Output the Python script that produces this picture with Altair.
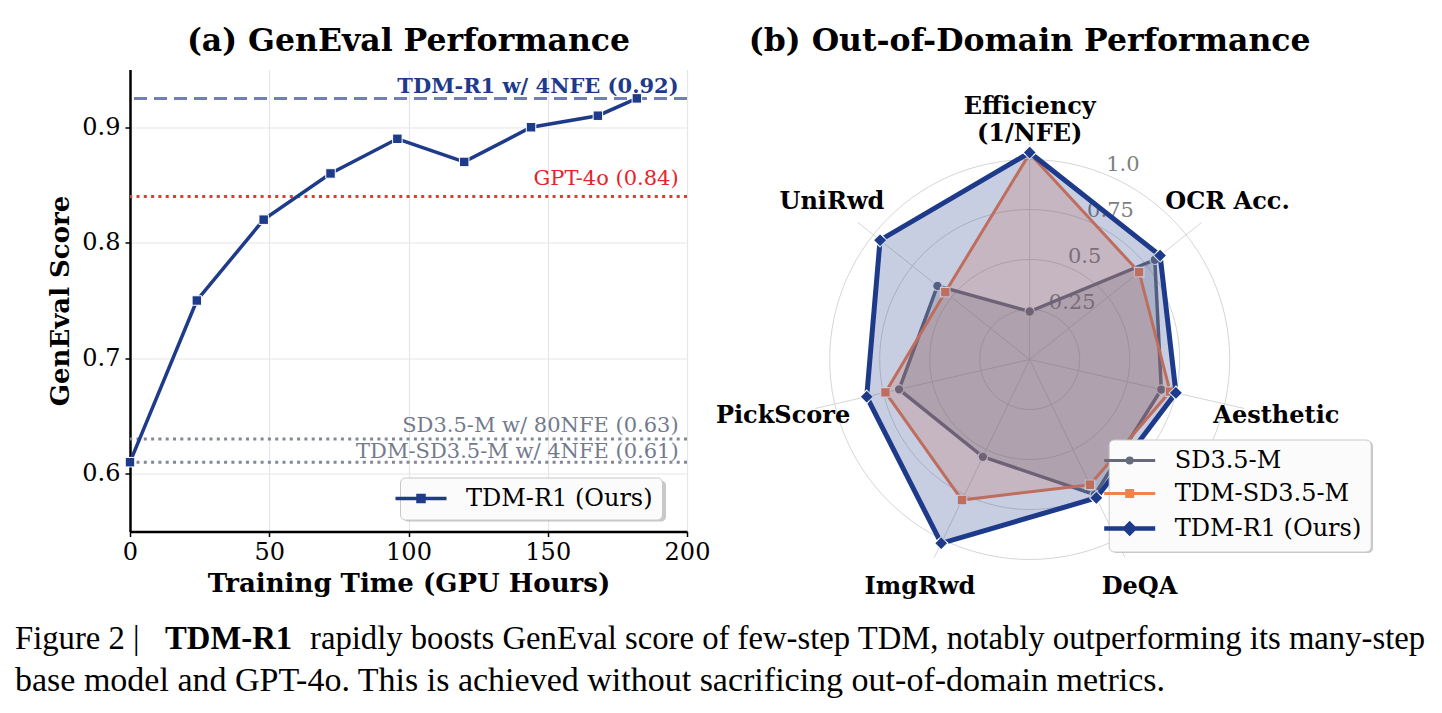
import math
import altair as alt
import pandas as pd

# ---------------- panel (a) data ----------------
hours = [0, 24, 48, 72, 96, 120, 144, 168, 182]
scores = [0.61, 0.75, 0.82, 0.86, 0.89, 0.87, 0.90, 0.91, 0.925]
ref_labels = ["TDM-R1 w/ 4NFE (0.92)", "GPT-4o (0.84)",
              "SD3.5-M w/ 80NFE (0.63)", "TDM-SD3.5-M w/ 4NFE (0.61)"]
ref_values = [0.925, 0.84, 0.63, 0.61]
ref_text_y = [0.930, 0.850, 0.636, 0.6135]
ref_text_x = [197, 197, 197, 197]
x_ticks = [0, 50, 100, 150, 200]
y_ticks = [0.6, 0.7, 0.8, 0.9]
series_a = "TDM-R1 (Ours)"

# ---------------- panel (b) data ----------------
metrics = ["Efficiency\n(1/NFE)", "OCR Acc.", "Aesthetic", "DeQA",
           "ImgRwd", "PickScore", "UniRwd"]
models = ["SD3.5-M", "TDM-SD3.5-M", "TDM-R1 (Ours)"]
sd35 = [0.24, 0.80, 0.675, 0.75, 0.54, 0.67, 0.59]
tdm_sd35 = [1.03, 0.70, 0.72, 0.695, 0.78, 0.74, 0.54]
tdm_r1 = [1.035, 0.834, 0.75, 0.768, 1.02, 0.836, 0.957]
r_ticks = [0.25, 0.5, 0.75, 1.0]
r_tick_labels = ["0.25", "0.5", "0.75", "1.0"]

# ---------------- caption ----------------
cap_1a = "Figure 2 |"
cap_1b = "TDM-R1"
cap_1c = "rapidly boosts GenEval score of few-step TDM, notably outperforming its many-step"
cap_2 = "base model and GPT-4o. This is achieved without sacrificing out-of-domain metrics."

# ---------------- styles ----------------
SERIF = "DejaVu Serif"
CAPFONT = "Liberation Serif"
NAVY = "#1e3a8a"
NAVY_LIGHT = "#6e80b5"
RED_LINE = "#ee3535"
RED_TEXT = "#e8242a"
SLATE_LINE = "#82879a"
SLATE_TEXT = "#737a8c"
GRAY = "#656a7c"
ORANGE = "#f47f4f"
GRID = "#e6e6e6"
RGRID = "#d6d6d6"
SHADOW = "#9a9a9a"

W1, H1 = 557, 462
W2, H2 = 600, 580

P_LINE_SQ = "M-2.55,0H2.55M-0.3,-0.3H0.3V0.3H-0.3ZM-0.1,-0.1H0.1V0.1H-0.1Z"
P_LINE_CI = ("M-2.55,0H2.55M-0.25,0A0.25,0.25 0 1,0 0.25,0A0.25,0.25 0 1,0 -0.25,0Z"
             "M-0.07,0A0.07,0.07 0 1,0 0.07,0A0.07,0.07 0 1,0 -0.07,0Z")
P_LINE_DI = "M-2.55,0H2.55M0,-0.45L0.45,0L0,0.45L-0.45,0ZM0,-0.15L0.15,0L0,0.15L-0.15,0Z"

# ================= panel (a) =================
xs = alt.Scale(domain=[0, 200], nice=False, zero=False)
ys = alt.Scale(domain=[0.55, 0.95], nice=False, zero=False)

axis_common = dict(labelFont=SERIF, labelFontSize=24, labelColor="black",
                   titleFont=SERIF, titleFontSize=26, titleFontWeight="bold",
                   titleColor="black", domainColor="black", domainWidth=2.5,
                   tickColor="black", tickSize=5, tickWidth=1.5, grid=True,
                   gridColor=GRID, gridWidth=1.2, labelFlush=False,
                   labelOverlap=False)
ax_x = alt.Axis(values=x_ticks, title="Training Time (GPU Hours)", format="d",
                labelPadding=4, titlePadding=6, **axis_common)
ax_y = alt.Axis(values=y_ticks, title="GenEval Score", format=".1f",
                labelPadding=5, titlePadding=8, **axis_common)

df_a = pd.DataFrame({"hours": hours, "score": scores,
                     "series": [series_a] * len(hours)})
df_ref = pd.DataFrame({"label": ref_labels, "value": ref_values,
                       "ty": ref_text_y, "tx": ref_text_x})

ref_styles = [
    dict(line=NAVY_LIGHT, dash=[13, 7], text=NAVY, weight="bold"),
    dict(line=RED_LINE, dash=[3, 4.3], text=RED_TEXT, weight="normal"),
    dict(line=SLATE_LINE, dash=[3, 4.3], text=SLATE_TEXT, weight="normal"),
    dict(line=SLATE_LINE, dash=[3, 4.3], text=SLATE_TEXT, weight="normal"),
]

layers_a = []
for lab, st in zip(ref_labels, ref_styles):
    layers_a.append(
        alt.Chart(df_ref).transform_filter(alt.datum.label == lab)
        .mark_rule(color=st["line"], strokeWidth=3, strokeDash=st["dash"])
        .encode(y=alt.Y("value:Q", scale=ys))
    )
for lab, st in zip(ref_labels, ref_styles):
    layers_a.append(
        alt.Chart(df_ref).transform_filter(alt.datum.label == lab)
        .mark_text(align="right", baseline="alphabetic", font=SERIF,
                   fontSize=21, fontWeight=st["weight"], color=st["text"])
        .encode(x=alt.X("tx:Q", scale=xs), y=alt.Y("ty:Q", scale=ys),
                text="label:N")
    )

legend_a = alt.Legend(title=None, orient="none", legendX=270, legendY=408,
                      symbolType=P_LINE_SQ, symbolSize=400,
                      symbolStrokeWidth=3.5, labelFont=SERIF, labelFontSize=24,
                      labelColor="black", labelOffset=33, labelLimit=400,
                      padding=9, fillColor="#fbfbfb", strokeColor="#c8c8c8",
                      cornerRadius=5)

line_a = alt.Chart(df_a).mark_line().encode(
    x=alt.X("hours:Q", scale=xs, axis=ax_x),
    y=alt.Y("score:Q", scale=ys, axis=ax_y),
    color=alt.Color("series:N", scale=alt.Scale(domain=[series_a], range=[NAVY]),
                    legend=legend_a),
    strokeWidth=alt.value(3.5),
)
pts_a = alt.Chart(df_a).mark_point(shape="square", filled=True, size=90,
                                   color=NAVY, stroke="white", strokeWidth=1,
                                   opacity=1).encode(
    x=alt.X("hours:Q", scale=xs), y=alt.Y("score:Q", scale=ys))

# soft drop shadow under the legend box (decoration only)
shadow_a = alt.Chart(pd.DataFrame({"k": [0]})).mark_rect(
    color=SHADOW, opacity=0.55, cornerRadius=5).encode(
    x=alt.value(273), x2=alt.value(536), y=alt.value(411), y2=alt.value(452))
layers_a += [line_a, pts_a, shadow_a]

cap_style1 = dict(align="left", baseline="alphabetic", font=CAPFONT,
                  fontSize=32.7, color="black")
cap_style2 = dict(align="left", baseline="alphabetic", font=CAPFONT,
                  fontSize=34, color="black")
cap_layers = [
    alt.Chart(pd.DataFrame({"t": [cap_1a]})).mark_text(**cap_style1)
    .encode(x=alt.value(-115), y=alt.value(579), text="t:N"),
    alt.Chart(pd.DataFrame({"t": [cap_1b]})).mark_text(fontWeight="bold", **cap_style1)
    .encode(x=alt.value(35), y=alt.value(579), text="t:N"),
    alt.Chart(pd.DataFrame({"t": [cap_1c]})).mark_text(**cap_style1)
    .encode(x=alt.value(180), y=alt.value(579), text="t:N"),
    alt.Chart(pd.DataFrame({"t": [cap_2]})).mark_text(**cap_style2)
    .encode(x=alt.value(-115), y=alt.value(621), text="t:N"),
]
layers_a += cap_layers

left = alt.layer(*layers_a).properties(
    width=W1, height=H1,
    title=alt.Title("(a) GenEval Performance", font=SERIF, fontSize=31.5,
                    fontWeight="bold", color="black", anchor="middle",
                    frame="group", offset=12),
)

# ================= panel (b) =================
bx = alt.Scale(domain=[-1.5, 1.5], nice=False, zero=False)
by = alt.Scale(domain=[-1.45, 1.45], nice=False, zero=False)
N = len(metrics)
ang = f"datum.idx * 2 * PI / {N}"

rows = []
for m, vals in zip(models, [sd35, tdm_sd35, tdm_r1]):
    for i, (met, v) in enumerate(zip(metrics, vals)):
        rows.append({"model": m, "idx": i, "metric": met, "value": v})
df_b = pd.DataFrame(rows)
df_axes = pd.DataFrame({"idx": list(range(N)), "metric": metrics})
df_rings = pd.DataFrame({"r": r_ticks, "lab": r_tick_labels})

rings = alt.Chart(df_rings).transform_calculate(
    a="sequence(0, 360, 3)"
).transform_flatten(["a"]).transform_calculate(
    cx="datum.r * sin(datum.a * PI / 180)", cy="datum.r * cos(datum.a * PI / 180)"
).mark_line(interpolate="linear-closed", color=RGRID, strokeWidth=1).encode(
    x=alt.X("cx:Q", scale=bx, axis=None), y=alt.Y("cy:Q", scale=by, axis=None),
    detail="r:N", order="a:Q")

spokes = alt.Chart(df_axes).transform_calculate(
    zero="0", sx=f"1.1 * sin({ang})", sy=f"1.1 * cos({ang})"
).mark_rule(color=RGRID, strokeWidth=1).encode(
    x=alt.X("zero:Q", scale=bx, axis=None), y=alt.Y("zero:Q", scale=by, axis=None),
    x2="sx:Q", y2="sy:Q")

rlabels = alt.Chart(df_rings).transform_calculate(
    tx="datum.r * sin(PI / 8)", ty="datum.r * cos(PI / 8)"
).mark_text(align="left", baseline="bottom", font=SERIF, fontSize=21,
            color="#808080").encode(
    x=alt.X("tx:Q", scale=bx, axis=None), y=alt.Y("ty:Q", scale=by, axis=None),
    text="lab:N")

colors = {"SD3.5-M": GRAY, "TDM-SD3.5-M": ORANGE, "TDM-R1 (Ours)": NAVY}
widths = {"SD3.5-M": 3.5, "TDM-SD3.5-M": 3, "TDM-R1 (Ours)": 5}
shapes = {"SD3.5-M": "circle", "TDM-SD3.5-M": "square", "TDM-R1 (Ours)": "diamond"}
sizes = {"SD3.5-M": 90, "TDM-SD3.5-M": 90, "TDM-R1 (Ours)": 180}

sym_expr = ("datum.value === 'SD3.5-M' ? '" + P_LINE_CI + "' : datum.value === "
            "'TDM-SD3.5-M' ? '" + P_LINE_SQ + "' : '" + P_LINE_DI + "'")
sw_expr = "datum.value === 'TDM-R1 (Ours)' ? 4.5 : 3"
legend_b = alt.Legend(title=None, orient="none", legendX=379, legendY=370,
                      symbolType=alt.ExprRef(expr=sym_expr), symbolSize=400,
                      symbolStrokeWidth=alt.ExprRef(expr=sw_expr),
                      labelFont=SERIF, labelFontSize=24, labelColor="black",
                      labelOffset=33, labelLimit=400, padding=9, rowPadding=9,
                      fillColor="#fbfbfb", strokeColor="#c8c8c8", cornerRadius=5)
color_b = alt.Scale(domain=models, range=[colors[m] for m in models])

layers_b = [rings, spokes, rlabels]
for m in models:
    base = alt.Chart(df_b).transform_filter(alt.datum.model == m).transform_calculate(
        px=f"datum.value * sin({ang})", py=f"datum.value * cos({ang})")
    xe = alt.X("px:Q", scale=bx, axis=None)
    ye = alt.Y("py:Q", scale=by, axis=None)
    layers_b.append(base.mark_line(interpolate="linear-closed").encode(
        x=xe, y=ye, order="idx:Q",
        color=alt.Color("model:N", scale=color_b, legend=legend_b),
        strokeWidth=alt.value(widths[m])))
    layers_b.append(base.mark_point(shape=shapes[m], filled=True, size=sizes[m],
                                    color=colors[m], stroke="white",
                                    strokeWidth=1.2, opacity=1).encode(x=xe, y=ye))
    layers_b.append(base.mark_line(interpolate="linear-closed", fill=colors[m],
                                   fillOpacity=0.25, strokeOpacity=0).encode(
        x=xe, y=ye, order="idx:Q"))

mlabels = alt.Chart(df_axes).transform_calculate(
    lx=f"1.265 * sin({ang})", ly=f"1.265 * cos({ang})"
).mark_text(align="center", baseline="middle", font=SERIF, fontSize=24,
            fontWeight="bold", color="black", lineBreak="\n", lineHeight=27).encode(
    x=alt.X("lx:Q", scale=bx, axis=None), y=alt.Y("ly:Q", scale=by, axis=None),
    text="metric:N")

shadow_b = alt.Chart(pd.DataFrame({"k": [0]})).mark_rect(
    color=SHADOW, opacity=0.55, cornerRadius=5).encode(
    x=alt.value(382.3), x2=alt.value(643.3), y=alt.value(371.4), y2=alt.value(483.4))
layers_b += [mlabels, shadow_b]

right = alt.layer(*layers_b).properties(
    width=W2, height=H2,
    title=alt.Title("(b) Out-of-Domain Performance", font=SERIF, fontSize=31.5,
                    fontWeight="bold", color="black", anchor="middle",
                    frame="group", offset=12),
)

chart = alt.hconcat(left, right, spacing=42.7, bounds="flush").resolve_scale(
    color="independent"
).resolve_legend(color="independent").properties(
    padding={"left": 15, "top": 25.5, "right": 5, "bottom": 5},
    background="white",
).configure_view(stroke=None)

chart.save("out.html", embed_options={"renderer": "svg", "actions": False})
